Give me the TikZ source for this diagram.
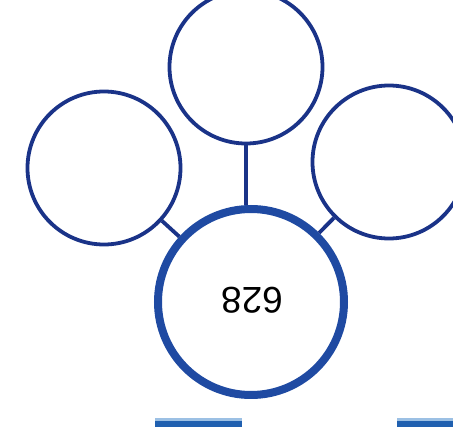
\documentclass[tikz,border=0pt]{standalone}
\usepackage{fontspec}
\setmainfont{Liberation Sans}
\definecolor{navy}{HTML}{1A3388}
\definecolor{bigblue}{HTML}{1F4AA2}
\definecolor{barblue}{HTML}{2060B0}
\definecolor{barlight}{HTML}{9CC0E4}
\begin{document}
\begin{tikzpicture}[x=1pt,y=-1pt,
  small/.style={circle,draw=navy,line width=3.8pt,minimum size=153pt,inner sep=0pt},
  big/.style={circle,draw=bigblue,line width=8pt,minimum size=186pt,inner sep=0pt},
  link/.style={draw=navy,line width=3.8pt},
  bar/.style={fill=barblue}]
\useasboundingbox (0,0) rectangle (453,427);
\clip (0,0) rectangle (453,427);
\node[small] (top) at (246,67) {};
\node[small] (left) at (104,168) {};
\node[small] (right) at (389,162) {};
\node[big] (centre) at (251,302) {};
\node[rotate=180,font=\fontsize{37}{42}\selectfont] (num) at (252,300) {628};
\draw[link] (top.south) -- (top.south |- centre.north);
\draw[link] (left) -- (centre);
\draw[link] (right) -- (centre);
\fill[barlight] (155,418) rectangle (242,421);
\fill[bar] (155,421) rectangle (242,430) coordinate (b1);
\fill[barlight] (397,418) rectangle (460,421);
\fill[bar] (397,421) rectangle (460,430) coordinate (b2);
\end{tikzpicture}
\end{document}
